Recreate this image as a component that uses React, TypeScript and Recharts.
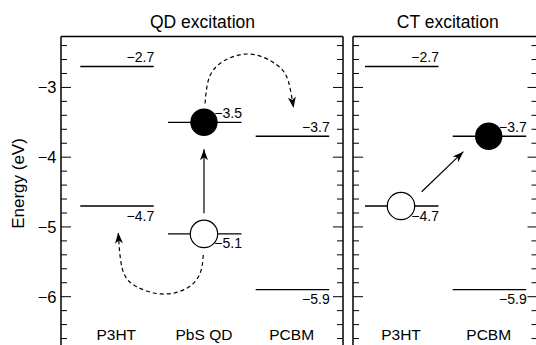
import { ComposedChart, Scatter, Line, XAxis, YAxis } from "recharts";

// energy levels (eV)
const qdColumns = ["P3HT", "PbS QD", "PCBM"];
const qdLumo = [-2.7, -3.5, -3.7];
const qdHomo = [-4.7, -5.1, -5.9];

const ctColumns = ["P3HT", "PCBM"];
const ctLumo = [-2.7, -3.7];
const ctHomo = [-4.7, -5.9];

const energyTicks = [
  -6.8, -6.6, -6.4, -6.2, -6, -5.8, -5.6, -5.4, -5.2, -5, -4.8, -4.6,
  -4.4, -4.2, -4, -3.8, -3.6, -3.4, -3.2, -3, -2.8, -2.6, -2.4,
];

// carriers: x is the column (1-based)
const qdElectron = [{ x: 2, e: -3.5 }];
const qdHole = [{ x: 2, e: -5.1 }];
const ctElectron = [{ x: 2, e: -3.7 }];
const ctHole = [{ x: 1, e: -4.7 }];

// arrows
const qdExcite = [
  { x: 2, e: -4.804 },
  { x: 2, e: -3.887 },
];
const qdElectronHop = [
  { x: 2.012, e: -3.23 },
  { x: 2.04, e: -2.951 },
  { x: 2.16, e: -2.679 },
  { x: 2.502, e: -2.521 },
  { x: 2.833, e: -2.679 },
  { x: 2.964, e: -2.922 },
  { x: 3.021, e: -3.295 },
];
const qdHoleHop = [
  { x: 1.992, e: -5.402 },
  { x: 1.955, e: -5.665 },
  { x: 1.803, e: -5.88 },
  { x: 1.518, e: -5.961 },
  { x: 1.233, e: -5.857 },
  { x: 1.073, e: -5.617 },
  { x: 1.023, e: -5.08 },
];
const ctExcite = [
  { x: 1.236, e: -4.495 },
  { x: 1.711, e: -3.921 },
];

const FONT = '"Liberation Sans", Arial, Helvetica, sans-serif';
const Y_DOMAIN = [-6.8, -2.27];
const CIRCLE_R = 13.7;

function fmt(v: number): string {
  return `\u2212${Math.abs(v).toFixed(1)}`;
}

function levels(lumo: number[], homo: number[]) {
  return lumo.flatMap((v, i) => [
    { x: i + 1, e: v, up: true },
    { x: i + 1, e: homo[i], up: false },
  ]);
}

// column names sit on the bottom edge of each panel
function columns(names: string[]) {
  return names.map((name, i) => ({ x: i + 1, e: Y_DOMAIN[0], name }));
}

function Level(props: any) {
  const { cx, cy, payload } = props;
  return (
    <g>
      <line x1={cx - 36} x2={cx + 37.5} y1={cy} y2={cy} stroke="#000" strokeWidth={1.3} />
      <text
        x={cx + 38}
        y={payload.up ? cy - 4 : cy + 14.5}
        textAnchor="end"
        fontSize={14}
        fill="#000"
      >
        {fmt(payload.e)}
      </text>
    </g>
  );
}

function ColumnName(props: any) {
  const { cx, cy, payload } = props;
  return (
    <text x={cx} y={cy - 13} textAnchor="middle" fontSize={15.5} fill="#000">
      {payload.name}
    </text>
  );
}

function Electron(props: any) {
  return <circle cx={props.cx} cy={props.cy} r={CIRCLE_R} fill="#000" />;
}

function Hole(props: any) {
  return <circle cx={props.cx} cy={props.cy} r={CIRCLE_R} fill="#fff" stroke="#000" strokeWidth={1.2} />;
}

function EnergyTick(props: any) {
  const { x, y, payload, side, labelled } = props;
  const major = Number.isInteger(payload.value);
  const len = major ? 10 : 6;
  const dir = side === "left" ? 1 : -1;
  return (
    <g>
      <line x1={x} x2={x + dir * len} y1={y} y2={y} stroke="#000" strokeWidth={1} />
      {labelled && major && (
        <text x={x - 4.5} y={y + 6} textAnchor="end" fontSize={16.5} fill="#000">
          {`\u2212${Math.abs(payload.value)}`}
        </text>
      )}
    </g>
  );
}

function ArrowHead({ id }: { id: string }) {
  return (
    <defs>
      <marker
        id={id}
        viewBox="-12 -6 13 12"
        refX={0}
        refY={0}
        markerWidth={13}
        markerHeight={12}
        markerUnits="userSpaceOnUse"
        orient="auto"
      >
        <path d="M0,0 L-11,-4 L-8,0 L-11,4 Z" fill="#000" />
      </marker>
    </defs>
  );
}

const axisLine = { stroke: "#000", strokeWidth: 1.5 };

function Panel({
  title,
  names,
  lumo,
  homo,
  xDomain,
  leftWidth,
  rightWidth,
  width,
  labelled,
  headId,
  titleDx,
  children,
}: any) {
  return (
    <ComposedChart
      width={width}
      height={354}
      margin={{ top: 35.5, right: 0, bottom: 1.5, left: 0 }}
    >
      <ArrowHead id={headId} />
      <XAxis
        type="number"
        dataKey="x"
        orientation="top"
        domain={xDomain}
        allowDataOverflow
        height={1}
        tick={false}
        tickLine={false}
        axisLine={axisLine}
        label={{ value: title, position: "top", offset: 7.7, dx: titleDx, fontSize: 17.5, fill: "#000" }}
      />
      <YAxis
        type="number"
        dataKey="e"
        domain={Y_DOMAIN}
        allowDataOverflow
        ticks={energyTicks}
        interval={0}
        width={leftWidth}
        axisLine={axisLine}
        tickLine={false}
        tickSize={0}
        tickMargin={0}
        tick={(p: any) => <EnergyTick {...p} side="left" labelled={labelled} />}
        label={
          labelled
            ? { value: "Energy (eV)", angle: -90, position: "center", dx: -12.5, dy: -11, fontSize: 17, fill: "#000" }
            : undefined
        }
      />
      <YAxis
        yAxisId="right"
        orientation="right"
        type="number"
        domain={Y_DOMAIN}
        allowDataOverflow
        ticks={energyTicks}
        interval={0}
        width={rightWidth}
        axisLine={axisLine}
        tickLine={false}
        tickSize={0}
        tickMargin={0}
        tick={(p: any) => <EnergyTick {...p} side="right" />}
      />
      <Scatter data={levels(lumo, homo)} shape={Level} isAnimationActive={false} />
      <Scatter data={columns(names)} shape={ColumnName} isAnimationActive={false} />
      {children}
    </ComposedChart>
  );
}

function arrow(data: any[], headId: string, dashed: boolean, key: string) {
  return (
    <Line
      key={key}
      data={data}
      dataKey="e"
      type={dashed ? "natural" : "linear"}
      stroke="#000"
      strokeWidth={1.2}
      strokeDasharray={dashed ? "4 3" : undefined}
      dot={false}
      activeDot={false}
      markerEnd={`url(#${headId})`}
      isAnimationActive={false}
    />
  );
}

export default function App() {
  return (
    <div
      style={{
        position: "absolute",
        left: 0,
        top: 0,
        width: 536,
        height: 345,
        overflow: "hidden",
        background: "#fff",
        fontFamily: FONT,
      }}
    >
      <div style={{ position: "absolute", left: 0, top: 0 }}>
        <Panel
          title="QD excitation"
          names={qdColumns}
          lumo={qdLumo}
          homo={qdHomo}
          xDomain={[0.37, 3.585]}
          leftWidth={61}
          rightWidth={2}
          width={345}
          labelled
          headId="qdHead"
          titleDx={0.5}
        >
          {arrow(qdExcite, "qdHead", false, "a")}
          {arrow(qdElectronHop, "qdHead", true, "b")}
          {arrow(qdHoleHop, "qdHead", true, "c")}
          <Scatter data={qdElectron} shape={Electron} isAnimationActive={false} />
          <Scatter data={qdHole} shape={Hole} isAnimationActive={false} />
        </Panel>
      </div>
      <div style={{ position: "absolute", left: 345, top: 0 }}>
        <Panel
          title="CT excitation"
          names={ctColumns}
          lumo={ctLumo}
          homo={ctHomo}
          xDomain={[0.453, 2.556]}
          leftWidth={8}
          rightWidth={7.5}
          width={200}
          labelled={false}
          headId="ctHead"
          titleDx={2.5}
        >
          {arrow(ctExcite, "ctHead", false, "a")}
          <Scatter data={ctElectron} shape={Electron} isAnimationActive={false} />
          <Scatter data={ctHole} shape={Hole} isAnimationActive={false} />
        </Panel>
      </div>
    </div>
  );
}
